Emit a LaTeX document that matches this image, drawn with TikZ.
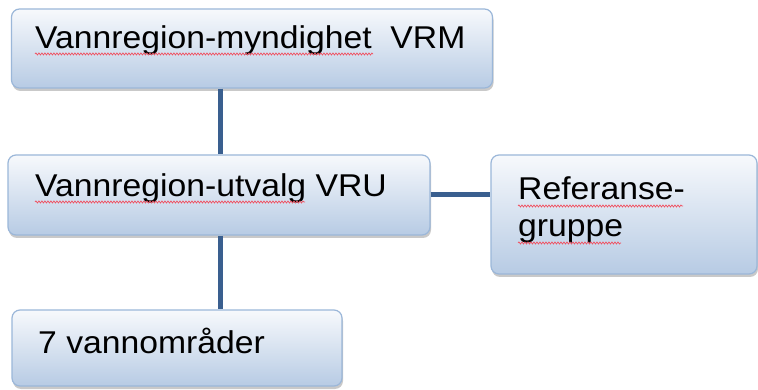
\documentclass[tikz,border=0pt]{standalone}
\usepackage{fontspec}
\setmainfont{Liberation Sans}[FakeStretch=1.07]
\usetikzlibrary{shadows,decorations.pathmorphing}
\definecolor{boxborder}{HTML}{9BB7D9}
\definecolor{boxtop}{HTML}{F7F9FC}
\definecolor{boxbottom}{HTML}{B7CBE4}
\definecolor{connblue}{HTML}{3A5F8F}
\definecolor{spellred}{HTML}{F05060}
\begin{document}
\begin{tikzpicture}[x=1pt,y=-1pt,
  box/.style={draw=boxborder, line width=1.2pt, rounded corners=8pt,
    top color=boxtop, bottom color=boxbottom, inner sep=0pt,
    drop shadow={shadow xshift=1pt, shadow yshift=-3pt, opacity=0.35, fill=black!60}},
  txt/.style={anchor=base west, inner sep=0pt, font=\fontsize{31.5}{37}\selectfont, text=black},
  conn/.style={draw=connblue, line width=5pt},
  spell/.style={draw=spellred, line width=0.7pt, decorate,
    decoration={snake, amplitude=1pt, segment length=3pt}}]
\useasboundingbox (0,0) rectangle (758,390);
\fill[white] (0,0) rectangle (758,390);
\coordinate (vx) at (220,0);
\node[box, minimum width=481pt, minimum height=79pt] (b1) at (252,48.5) {};
\node[box, minimum width=422pt, minimum height=80pt] (b2) at (219,195) {};
\node[box, minimum width=266pt, minimum height=119pt] (b3) at (624,214.5) {};
\node[box, minimum width=330pt, minimum height=76pt] (b4) at (177,348) {};
\draw[conn] (b1.south -| vx) -- (b2.north -| vx);
\draw[conn] (b2.south -| vx) -- (b4.north -| vx);
\draw[conn] (b2.east) -- (b2.east -| b3.west);
% texts
\node[txt] (t1) at (35,49) {Vannregion-myndighet\ \ VRM};
\node[txt] (t2) at (35,197) {Vannregion-utvalg VRU};
\node[txt] (t3a) at (518,200) {Referanse-};
\node[txt] (t3b) at (518,237) {gruppe};
\node[txt] (t4) at (38,353) {7 vannområder};
% spell-check underlines
\draw[spell] (35,54) -- (373,54);
\draw[spell] (35,202) -- (305,202);
\draw[spell] (518,206) -- (683,206);
\draw[spell] (518,243) -- (621,243);
\end{tikzpicture}
\end{document}
